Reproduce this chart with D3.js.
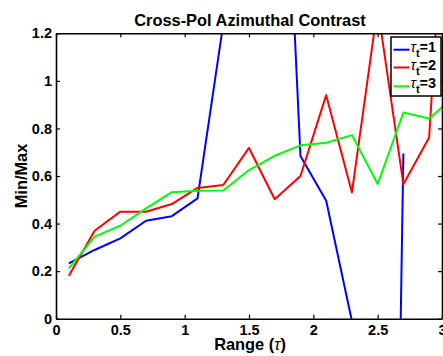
<!DOCTYPE html>
<html><head><meta charset="utf-8">
<script src="https://cdn.jsdelivr.net/npm/d3@7"></script>
<style>
html,body{margin:0;padding:0;background:#fff;}
svg{display:block;}
text{font-family:"Liberation Sans",Arial,Helvetica,sans-serif;}
</style></head>
<body>
<svg id="chart" width="443" height="356"></svg>
<script>
// ---- data ----
const ranges = [0.1,0.3,0.5,0.7,0.9,1.1,1.3,1.5,1.7,1.9,2.1,2.3,2.5,2.7,2.9,3.1];
const tau1 = [0.233,0.289,0.338,0.412,0.431,0.506,1.24,2.0,3.0,0.684,0.496,-0.01,-6.0,0.695,null,null];
const tau2 = [0.181,0.370,0.450,0.450,0.482,0.550,0.562,0.718,0.502,0.600,0.940,0.531,1.31,0.565,0.762,2.5];
const tau3 = [0.212,0.345,0.391,0.464,0.532,0.538,0.539,0.625,0.685,0.729,0.740,0.772,0.566,0.867,0.842,0.935];
const seriesNames = ["1","2","3"];
const seriesColors = ["#0000ff","#ff0000","#00ff00"];
const xTicks = [0,0.5,1,1.5,2,2.5,3];
const yTicks = [0,0.2,0.4,0.6,0.8,1,1.2];
const titleText = "Cross-Pol Azimuthal Contrast";
const yLabel = "Min/Max";

const svg = d3.select("#chart");
const L=56, R=442, T=33.3, B=318.7;
const x = d3.scaleLinear().domain([0,3]).range([L,R]);
const y = d3.scaleLinear().domain([0,1.2]).range([B,T]);
const fmt = d3.format("~g");

svg.append("defs").append("clipPath").attr("id","clip")
  .append("rect").attr("x",L).attr("y",T).attr("width",R-L).attr("height",B-T);

const series = [tau1,tau2,tau3];
const line = d3.line().defined(d=>d[1]!==null).x(d=>x(d[0])).y(d=>y(d[1]));
const g = svg.append("g").attr("clip-path","url(#clip)");
series.forEach((s,i)=>{
  g.append("path").datum(ranges.map((r,j)=>[r,s[j]]))
    .attr("d",line).attr("fill","none").attr("stroke",seriesColors[i])
    .attr("stroke-width",2).attr("stroke-linejoin","round");
});

// axes
const tickFont = "bold 14.5px 'Liberation Sans', Arial, sans-serif";
const ax = svg.append("g").attr("transform",`translate(0,${B})`)
  .call(d3.axisBottom(x).tickValues(xTicks).tickFormat(fmt).tickSizeInner(-4).tickSizeOuter(0).tickPadding(5));
const ay = svg.append("g").attr("transform",`translate(${L},0)`)
  .call(d3.axisLeft(y).tickValues(yTicks).tickFormat(fmt).tickSizeInner(-4).tickSizeOuter(0).tickPadding(4));
const axt = svg.append("g").attr("transform",`translate(0,${T})`)
  .call(d3.axisTop(x).tickValues(xTicks).tickFormat("").tickSizeInner(-4).tickSizeOuter(0));
const ayr = svg.append("g").attr("transform",`translate(${R},0)`)
  .call(d3.axisRight(y).tickValues(yTicks).tickFormat("").tickSizeInner(-4).tickSizeOuter(0));
[ax,ay,axt,ayr].forEach(a=>{
  a.selectAll("path.domain").attr("stroke","#000").attr("stroke-width",1.6);
  a.selectAll(".tick line").attr("stroke","#000").attr("stroke-width",1.2);
  a.selectAll("text").style("font",tickFont).attr("fill","#000");
});
ax.selectAll("text").attr("dy","0.75em");

// title
svg.append("text").attr("x",250).attr("y",25.5).attr("text-anchor","middle")
  .style("font","bold 16.4px 'Liberation Sans', Arial, sans-serif").text(titleText);

// x label
const xl = svg.append("text").attr("x",250).attr("y",350).attr("text-anchor","middle")
  .style("font","bold 16.4px 'Liberation Sans', Arial, sans-serif");
xl.append("tspan").text("Range (");
xl.append("tspan").style("font-style","italic").style("font-weight","normal").text("τ");
xl.append("tspan").text(")");

// y label
svg.append("text").attr("transform",`translate(26.5,${(T+B)/2}) rotate(-90)`)
  .attr("text-anchor","middle")
  .style("font","bold 16.4px 'Liberation Sans', Arial, sans-serif").text(yLabel);

// legend
const lg = svg.append("g");
lg.append("rect").attr("x",391).attr("y",37).attr("width",50).attr("height",59)
  .attr("fill","#fff").attr("stroke","#000").attr("stroke-width",1.5);
const ly = [49.7,67.5,86.3];
seriesNames.forEach((n,i)=>{
  lg.append("line").attr("x1",393.5).attr("x2",409.5).attr("y1",ly[i]).attr("y2",ly[i])
    .attr("stroke",seriesColors[i]).attr("stroke-width",2);
  const t = lg.append("text").attr("x",410.5).attr("y",ly[i]+2)
    .style("font","bold 14.5px 'Liberation Sans', Arial, sans-serif");
  t.append("tspan").style("font-style","italic").style("font-weight","normal").text("τ");
  t.append("tspan").attr("dy",5).style("font-size","11px").text("t");
  t.append("tspan").attr("dy",-5).text("=" + n);
});
</script>
</body></html>
